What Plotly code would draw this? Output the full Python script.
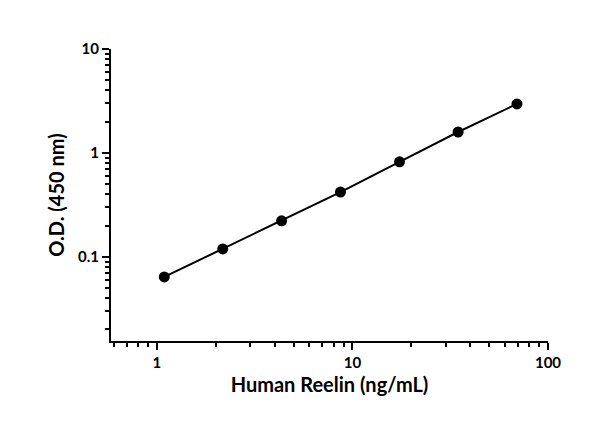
import plotly.graph_objects as go

conc = [1.09, 2.17, 4.34, 8.68, 17.4, 34.7, 69.4]
od = [0.064, 0.119, 0.222, 0.42, 0.82, 1.59, 2.96]

xminor = [0.6, 0.7, 0.8, 0.9] + [k for k in range(2, 10)] + [k * 10 for k in range(2, 10)]
yminor = [0.02 + 0.01 * i for i in range(8)] + [0.1 * k for k in range(2, 10)] + list(range(2, 10))

fig = go.Figure(go.Scatter(x=conc, y=od, mode="lines+markers",
                           line=dict(color="black", width=2),
                           marker=dict(color="black", size=11)))
font = dict(family="Lato", size=15, color="black")
ax = dict(showgrid=False, zeroline=False, showline=True, linecolor="black", linewidth=2,
          ticks="outside", ticklen=7, tickwidth=2, tickcolor="black", automargin=False,
          tickfont=dict(family="Lato", size=15, color="black"))
fig.update_xaxes(type="log", range=[-0.235, 2], tickvals=[1, 10, 100],
                 ticktext=["<b>1</b>", "<b>10</b>", "<b>100</b>"],
                 minor=dict(tickvals=xminor, ticks="outside", ticklen=4, tickwidth=1.5, tickcolor="black"),
                 title=dict(text="<b>Human Reelin (ng/mL)</b>", standoff=8,
                            font=dict(family="Lato", size=20, color="black")),
                 **ax)
fig.update_yaxes(type="log", range=[-1.81, 1], tickvals=[0.1, 1, 10],
                 ticktext=["<b>0.1</b>", "<b>1</b>", "<b>10</b>"],
                 minor=dict(tickvals=yminor, ticks="outside", ticklen=4, tickwidth=1.5, tickcolor="black"),
                 title=dict(text="<b>O.D. (450 nm)</b>", standoff=8,
                            font=dict(family="Lato", size=20, color="black")),
                 **ax)
fig.update_layout(width=600, height=422, plot_bgcolor="white", paper_bgcolor="white",
                  margin=dict(l=103, r=60, t=41, b=89), showlegend=False, font=font)
fig.write_html("out.html")
